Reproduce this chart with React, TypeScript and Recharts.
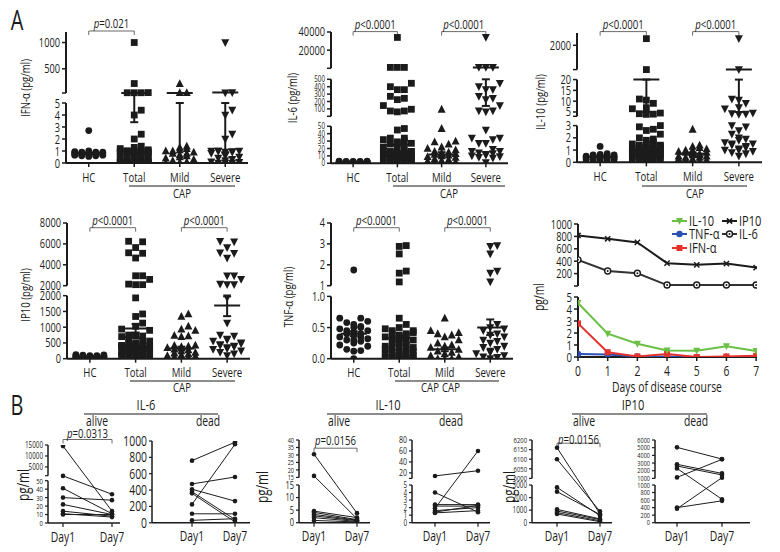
import React from "react";
import { ErrorBar, ReferenceLine, Scatter, ScatterChart, XAxis, YAxis } from "recharts";

const FONT = '"Open Sans", "Noto Sans", "Liberation Sans", sans-serif';
const SX = 0.74; // horizontal squeeze to get a condensed face
const INK = "#1b1b1b";
const GREEN = "#6abf45";
const BLUE = "#2a4fb5";
const RED = "#e5322d";

const GROUPS = ["HC", "Total", "Mild", "Severe"];

// IFN-α
const ifnHC = [2.7, 1.0, 0.95, 0.9, 0.9, 0.85, 0.85, 0.8, 0.8, 0.8, 0.8, 0.75, 0.75, 0.7, 0.7, 0.7, 0.65, 0.65, 0.6, 0.6, 0.55, 0.9];
const ifnMild = [220, 45, 45, 1.4, 1.3, 1.2, 1.1, 1.0, 1.0, 0.9, 0.8, 0.8, 0.7, 0.6, 0.5, 0.4, 0.3, 0.2, 0.1, 0.05, 0, 0, 0, 0, 0];
const ifnSevere = [1000, 48, 45, 4.4, 4.0, 2.4, 2.0, 1.0, 1.0, 1.0, 1.0, 0.95, 0.9, 0.9, 0.8, 0.6, 0.5, 0.4, 0.3, 0.2, 0.1, 0.05, 0, 0, 0];
const ifnCenter = [0.8, 40, 40, 50];
const ifnLow = [0.75, 3.4, 0, 0.9];
const ifnHigh = [0.85, 40, 5, 5];

// IL-6
const il6HC = [3, 3, 2.5, 2.5, 2, 2, 2, 2, 1.5, 1.5, 1.5, 1, 1, 1, 1, 0.5, 0.5, 2, 1.5, 2.5];
const il6Mild = [95, 47, 30, 29, 26, 22, 20, 18, 16, 15, 14, 13, 12, 11, 10, 9, 8, 6, 5, 4, 3, 2, 1, 0.5, 0.2];
const il6Severe = [34000, 1000, 1000, 1000, 446, 400, 360, 360, 270, 243, 225, 145, 72, 72, 60, 45, 34, 34, 32, 27, 27, 19, 16, 16, 14, 13, 12, 11, 10, 9, 8, 7, 1];
const il6Center = [1.8, 25, 12, 1000];
const il6Low = [1.5, 25, 9, 140];
const il6High = [2.1, 25, 15, 500];

// IL-10
const il10HC = [1.3, 0.7, 0.65, 0.6, 0.6, 0.55, 0.5, 0.5, 0.45, 0.45, 0.4, 0.4, 0.35, 0.35, 0.3, 0.3, 0.25, 0.2, 0.2, 0.15, 0.1, 0.05];
const il10Mild = [2.7, 1.4, 1.3, 1.2, 1.1, 1.0, 1.0, 0.9, 0.8, 0.8, 0.7, 0.7, 0.6, 0.6, 0.5, 0.5, 0.4, 0.4, 0.3, 0.3, 0.2, 0.2, 0.1, 0.1];
const il10Severe = [2540, 22, 11, 10.5, 9, 7, 6.5, 4.5, 4.2, 4.0, 3.9, 3.0, 2.9, 2.6, 2.3, 2.0, 1.9, 1.8, 1.6, 1.5, 1.5, 1.4, 1.3, 1.2, 1.1, 1.0, 1.0, 0.9, 0.8, 0.7, 0.5];
const il10Center = [0.45, 20, 0.7, 21];
const il10Low = [0.4, 5, 0.6, 5];
const il10High = [0.5, 20, 0.8, 20];

// IP10
const ip10HC = [130, 120, 110, 100, 100, 90, 80, 80, 70, 60, 60, 50, 50, 40, 40, 30, 30, 20, 20, 10];
const ip10Mild = [1420, 1340, 1030, 940, 900, 740, 720, 700, 430, 420, 400, 380, 350, 300, 280, 250, 200, 180, 150, 120, 100, 80, 60, 40, 20];
const ip10Severe = [6250, 6200, 5650, 5150, 5100, 4650, 2950, 2950, 2600, 2150, 2100, 2100, 1930, 1130, 750, 720, 620, 600, 560, 500, 480, 450, 420, 400, 380, 350, 320, 300, 250, 200, 150, 100];
const ip10Center = [60, 960, 320, 1690];
const ip10Low = [50, 830, 260, 1350];
const ip10High = [70, 1100, 380, 1980];

// TNF-α
const tnfHC = [1.75, 0.65, 0.65, 0.6, 0.58, 0.55, 0.52, 0.5, 0.5, 0.48, 0.45, 0.45, 0.42, 0.4, 0.4, 0.38, 0.35, 0.35, 0.32, 0.3, 0.3, 0.28, 0.25, 0.22, 0.2, 0.15, 0.13, 0.12, 0.0];
const tnfMild = [0.65, 0.45, 0.42, 0.4, 0.38, 0.35, 0.3, 0.25, 0.22, 0.2, 0.18, 0.15, 0.12, 0.1, 0.08, 0.05, 0.03, 0, 0, 0];
const tnfSevere = [2.92, 2.88, 2.52, 1.7, 1.6, 1.18, 0.55, 0.5, 0.48, 0.45, 0.4, 0.38, 0.35, 0.3, 0.28, 0.25, 0.2, 0.18, 0.15, 0.12, 0.1, 0.08, 0.05, 0.03, 0.02, 0];
const tnfCenter = [0.4, 0.33, 0.15, 0.5];
const tnfLow = [0.36, 0.29, 0.12, 0.38];
const tnfHigh = [0.44, 0.37, 0.18, 0.63];

// time course
const days = ["0", "1", "2", "4", "5", "6", "7"];
const trendIP10 = [815, 762, 703, 368, 341, 362, 297];
const trendIL6 = [422, 243, 205, 15, 15, 15, 15];
const trendIL10 = [4.5, 1.95, 1.1, 0.55, 0.52, 0.9, 0.5];
const trendIFN = [2.8, 0.4, 0.05, 0.25, 0, 0.05, 0.1];
const trendTNF = [0.25, 0.2, 0.05, 0.05, 0, 0, 0];

// paired Day1 / Day7
const il6AliveD1 = [14500, 900, 41, 30, 22, 14, 11, 10];
const il6AliveD7 = [14, 34, 11, 27, 10, 8, 7, 10];
const il6DeadD1 = [760, 475, 410, 380, 360, 225, 110, 30];
const il6DeadD7 = [985, 560, 265, 40, 10, 960, 110, 50];
const il10AliveD1 = [30.5, 16, 4.6, 4.1, 3.3, 2.7, 2.0, 0.9];
const il10AliveD7 = [3.8, 1.6, 2.0, 1.2, 1.0, 0.8, 0.5, 0.3];
const il10DeadD1 = [14.5, 4.0, 2.4, 2.2, 1.9, 1.6, 1.4, 1.3];
const il10DeadD7 = [24, 1.4, 2.4, 2.2, 60, 2.0, 2.3, 1.6];
const ip10AliveD1 = [6160, 6100, 2810, 2470, 1060, 930, 800, 690];
const ip10AliveD7 = [700, 900, 560, 650, 300, 250, 150, 80];
const ip10DeadD1 = [5040, 2830, 2610, 2300, 1130, 400, 370];
const ip10DeadD7 = [3520, 1650, 1450, 620, 3480, 580, 1100];

type Seg = { lo: number; hi: number; y0: number; y1: number };

const YW = 50;
const MT = 36;
const MR = 6;
const XH = 30;

const r2 = (v: number) => Math.round(v * 100) / 100;
const segD = (v: number, s: Seg) => s.y0 + ((v - s.lo) / (s.hi - s.lo)) * (s.y1 - s.y0);
function toD(v: number, segs: Seg[]) {
  for (const s of segs) if (v <= s.hi) return segD(v, s);
  return segD(v, segs[segs.length - 1]);
}

// condensed text: squeeze horizontally around the anchor point
function ct(x: number, y: number, s: any, fs = 13, anchor = "middle", rot = 0, key?: any) {
  const tr = `translate(${x},${y})${rot ? ` rotate(${rot})` : ""} scale(${SX},1)`;
  return (
    <text
      key={key}
      transform={tr}
      fontSize={fs}
      textAnchor={anchor as any}
      dominantBaseline={rot ? "central" : undefined}
      fontFamily={FONT}
      fill={INK}
    >
      {s}
    </text>
  );
}

function buildTicks(segs: Seg[], vals: number[][], fs: number[], fmt?: (v: number, i: number) => string) {
  const m = new Map<number, { t: string; fs: number }>();
  segs.forEach((s, i) => {
    if (i > 0) m.set(r2(s.y0), { t: "", fs: fs[i] });
    vals[i].forEach((v) => m.set(r2(segD(v, s)), { t: fmt ? fmt(v, i) : String(v), fs: fs[i] }));
  });
  return m;
}

const yTick = (m: Map<number, { t: string; fs: number }>) => (p: any) => {
  const e = m.get(p.payload.value);
  if (!e || !e.t) return <g />;
  return ct(p.x, p.y + e.fs * 0.36, e.t, e.fs, "end");
};
const xTick = (label: (v: number) => string, fs = 13) => (p: any) => ct(p.x, p.y + 12.5, label(p.payload.value), fs);

// simple beeswarm: px offsets so markers don't sit on top of each other
function swarm(vals: number[], segs: Seg[], step: number, maxOff: number) {
  const items = vals.map((v, i) => ({ i, d: toD(v, segs) })).sort((a, b) => a.d - b.d);
  const cands = [0];
  for (let k = 1; k * step <= maxOff; k++) cands.push(k * step, -k * step);
  const placed: { d: number; o: number }[] = [];
  const out = new Array(vals.length).fill(0);
  for (const it of items) {
    let best = 0;
    let bestHits = Infinity;
    for (const o of cands) {
      const hits = placed.filter((p) => Math.abs(p.d - it.d) < step && Math.abs(p.o - o) < step).length;
      if (hits < bestHits) {
        best = o;
        bestHits = hits;
        if (hits === 0) break;
      }
    }
    placed.push({ d: it.d, o: best });
    out[it.i] = best;
  }
  return out;
}

const mk = {
  circle: (r: number, fill = INK) => (p: any) => <circle cx={p.cx} cy={p.cy} r={r} fill={fill} />,
  square: (s: number, fill = INK) => (p: any) => <rect x={p.cx - s / 2} y={p.cy - s / 2} width={s} height={s} fill={fill} />,
  triUp: (s: number, fill = INK) => (p: any) => (
    <path d={`M${p.cx},${p.cy - s * 0.55}L${p.cx + s / 2},${p.cy + s * 0.42}L${p.cx - s / 2},${p.cy + s * 0.42}Z`} fill={fill} />
  ),
  triDown: (s: number, fill = INK) => (p: any) => (
    <path d={`M${p.cx},${p.cy + s * 0.55}L${p.cx + s / 2},${p.cy - s * 0.42}L${p.cx - s / 2},${p.cy - s * 0.42}Z`} fill={fill} />
  ),
  cross: (s: number, c = INK) => (p: any) => (
    <path d={`M${p.cx - s},${p.cy - s}L${p.cx + s},${p.cy + s}M${p.cx - s},${p.cy + s}L${p.cx + s},${p.cy - s}`} stroke={c} strokeWidth={1.5} />
  ),
  ring: (r: number, c = INK) => (p: any) => (
    <g>
      <circle cx={p.cx} cy={p.cy} r={r} fill="#fff" stroke={c} strokeWidth={1.4} />
      <circle cx={p.cx} cy={p.cy} r={1} fill={c} />
    </g>
  ),
};

const centerLine = (half: number) => (p: any) => (
  <line x1={p.cx - half} x2={p.cx + half} y1={p.cy} y2={p.cy} stroke={INK} strokeWidth={2} />
);

const bracket = (label: string, fs = 13, lift = 3) => (p: any) => {
  const { x1, y1, x2 } = p;
  return (
    <g>
      <path d={`M${x1},${y1 + 4}V${y1}H${x2}V${y1 + 4}`} fill="none" stroke="#6b6b6b" strokeWidth={1} />
      {ct(
        (x1 + x2) / 2,
        y1 - lift,
        <>
          <tspan fontStyle="italic">p</tspan>
          {label}
        </>,
        fs
      )}
    </g>
  );
};

function axisSegs(segs: Seg[], x: number, w = 2) {
  return segs.map((s, i) => (
    <ReferenceLine
      key={`ax${i}`}
      segment={[{ x, y: s.y0 }, { x, y: s.y1 }]}
      stroke={INK}
      strokeWidth={w}
      ifOverflow="visible"
    />
  ));
}

type DotProps = {
  axisX: number;
  right: number;
  bottom: number;
  segs: Seg[];
  tickVals: number[][];
  tickFs: number[];
  fmt?: (v: number, i: number) => string;
  hc: number[];
  mild: number[];
  severe: number[];
  center: number[];
  low: number[];
  high: number[];
  brackets: { a: number; b: number; y: number; label: string }[];
};

function DotPanel(p: DotProps) {
  const { segs } = p;
  const dmax = segs[segs.length - 1].y1;
  const W = p.right - p.axisX;
  const band = W / 4;
  const m = buildTicks(segs, p.tickVals, p.tickFs, p.fmt);
  const groups = [p.hc, [...p.mild, ...p.severe], p.mild, p.severe];
  const shapes = [mk.circle(3.4), mk.square(6.8), mk.triUp(8), mk.triDown(8)];
  const errData = p.low.map((lo, i) => ({ x: i, y: toD(lo, segs), err: [0, toD(p.high[i], segs) - toD(lo, segs)] }));
  const cData = p.center.map((c, i) => ({ x: i, y: toD(c, segs) }));
  return (
    <div style={{ position: "absolute", left: p.axisX - YW, top: p.bottom - dmax - MT }}>
      <ScatterChart width={YW + W + MR} height={MT + dmax + XH} margin={{ top: MT, right: MR, bottom: 0, left: 0 }}>
        <XAxis
          type="number"
          dataKey="x"
          domain={[-0.5, 3.5]}
          ticks={[0, 1, 2, 3]}
          interval={0}
          height={XH}
          allowDataOverflow
          axisLine={{ stroke: INK, strokeWidth: 2 }}
          tickLine={{ stroke: INK, strokeWidth: 1.5 }}
          tickSize={4}
          tick={xTick((v) => GROUPS[v])}
        />
        <YAxis
          type="number"
          dataKey="y"
          domain={[0, dmax]}
          ticks={[...m.keys()]}
          interval={0}
          width={YW}
          allowDataOverflow
          axisLine={false}
          tickLine={{ stroke: INK, strokeWidth: 1.5 }}
          tickSize={4}
          tick={yTick(m)}
        />
        {axisSegs(segs, -0.5)}
        <Scatter data={errData} shape={() => <g />} isAnimationActive={false}>
          <ErrorBar dataKey="err" direction="y" width={4} stroke={INK} strokeWidth={2} />
        </Scatter>
        {groups.map((vals, gi) => {
          const offs = swarm(vals, segs, 7, 20);
          return (
            <Scatter
              key={gi}
              data={vals.map((v, k) => ({ x: gi + offs[k] / band, y: toD(v, segs) }))}
              shape={shapes[gi]}
              isAnimationActive={false}
            />
          );
        })}
        <Scatter data={cData} shape={centerLine(13)} isAnimationActive={false} />
        {p.brackets.map((b, i) => (
          <ReferenceLine
            key={`br${i}`}
            segment={[{ x: b.a, y: p.bottom - b.y }, { x: b.b, y: p.bottom - b.y }]}
            ifOverflow="visible"
            shape={bracket(b.label)}
          />
        ))}
      </ScatterChart>
    </div>
  );
}

function TrendPanel() {
  const axisX = 578;
  const right = 757;
  const bottom = 357.3;
  const segs: Seg[] = [
    { lo: 0, hi: 5, y0: 0, y1: 60 },
    { lo: 0, hi: 1000, y0: 71, y1: 133 },
  ];
  const dmax = 133;
  const W = right - axisX;
  const m = buildTicks(segs, [[0, 1, 2, 3, 4, 5], [200, 400, 600, 800, 1000]], [13, 12.5]);
  const series = [
    { vals: trendIP10, color: INK, shape: mk.cross(2.6) },
    { vals: trendIL6, color: "#333", shape: mk.ring(3) },
    { vals: trendTNF, color: BLUE, shape: mk.circle(3.2, BLUE) },
    { vals: trendIFN, color: RED, shape: mk.square(6, RED) },
    { vals: trendIL10, color: GREEN, shape: mk.triDown(7, GREEN) },
  ];
  return (
    <div style={{ position: "absolute", left: axisX - YW, top: bottom - dmax - MT }}>
      <ScatterChart width={YW + W + MR} height={MT + dmax + XH} margin={{ top: MT, right: MR, bottom: 0, left: 0 }}>
        <XAxis
          type="number"
          dataKey="x"
          domain={[0, 6.03]}
          ticks={[0, 1, 2, 3, 4, 5, 6]}
          interval={0}
          height={XH}
          allowDataOverflow
          axisLine={{ stroke: INK, strokeWidth: 2 }}
          tickLine={{ stroke: INK, strokeWidth: 1.5 }}
          tickSize={4}
          tick={xTick((v) => days[v], 14)}
        />
        <YAxis
          type="number"
          dataKey="y"
          domain={[0, dmax]}
          ticks={[...m.keys()]}
          interval={0}
          width={YW}
          allowDataOverflow
          axisLine={false}
          tickLine={{ stroke: INK, strokeWidth: 1.5 }}
          tickSize={4}
          tick={yTick(m)}
        />
        {axisSegs(segs, 0)}
        {series.map((s, i) => (
          <Scatter
            key={i}
            data={s.vals.map((v, k) => ({ x: k, y: toD(v, segs) }))}
            line={{ stroke: s.color, strokeWidth: 2 }}
            shape={s.shape}
            isAnimationActive={false}
          />
        ))}
      </ScatterChart>
    </div>
  );
}

type PairProps = {
  axisX: number;
  right: number;
  x1: number;
  x7: number;
  segs: Seg[];
  tickVals: number[][];
  tickFs: number[];
  d1: number[];
  d7: number[];
  bracket?: { y: number; label: string; lift: number };
};

function PairPanel(p: PairProps) {
  const { segs } = p;
  const bottom = 522.5;
  const dmax = segs[segs.length - 1].y1;
  const W = p.right - p.axisX;
  const unit = p.x7 - p.x1;
  const xmin = -(p.x1 - p.axisX) / unit;
  const xmax = 1 + (p.right - p.x7) / unit;
  const m = buildTicks(segs, p.tickVals, p.tickFs);
  return (
    <div style={{ position: "absolute", left: p.axisX - YW, top: bottom - dmax - MT }}>
      <ScatterChart width={YW + W + MR} height={MT + dmax + XH} margin={{ top: MT, right: MR, bottom: 0, left: 0 }}>
        <XAxis
          type="number"
          dataKey="x"
          domain={[xmin, xmax]}
          ticks={[0, 1]}
          interval={0}
          height={XH}
          allowDataOverflow
          axisLine={{ stroke: INK, strokeWidth: 1.5 }}
          tickLine={{ stroke: INK, strokeWidth: 1.2 }}
          tickSize={4}
          tick={xTick((v) => (v === 0 ? "Day1" : "Day7"), 14)}
        />
        <YAxis
          type="number"
          dataKey="y"
          domain={[0, dmax]}
          ticks={[...m.keys()]}
          interval={0}
          width={YW}
          allowDataOverflow
          axisLine={false}
          tickLine={{ stroke: INK, strokeWidth: 1.2 }}
          tickSize={3}
          tick={yTick(m)}
        />
        {axisSegs(segs, xmin, 1.5)}
        {p.d1.map((v, k) => (
          <Scatter
            key={k}
            data={[
              { x: 0, y: toD(v, segs) },
              { x: 1, y: toD(p.d7[k], segs) },
            ]}
            line={{ stroke: INK, strokeWidth: 1 }}
            shape={mk.circle(2.3)}
            isAnimationActive={false}
          />
        ))}
        {p.bracket && (
          <ReferenceLine
            segment={[{ x: 0, y: bottom - p.bracket.y }, { x: 1, y: bottom - p.bracket.y }]}
            ifOverflow="visible"
            shape={bracket(p.bracket.label, 13, p.bracket.lift)}
          />
        )}
      </ScatterChart>
    </div>
  );
}

const hline = (x1: number, x2: number, y: number, key?: any) => (
  <line key={key} x1={x1} x2={x2} y1={y} y2={y} stroke={INK} strokeWidth={1} />
);

function Overlay() {
  const legend = [
    { name: "IL-10", color: GREEN, shape: mk.triDown(7, GREEN), x: 672, y: 221 },
    { name: "IP10", color: INK, shape: mk.cross(2.6), x: 722, y: 221 },
    { name: "TNF-α", color: BLUE, shape: mk.circle(3.2, BLUE), x: 672, y: 234 },
    { name: "IL-6", color: "#333", shape: mk.ring(3), x: 722, y: 234 },
    { name: "IFN-α", color: RED, shape: mk.square(6, RED), x: 672, y: 248 },
  ];
  const heads = [
    { name: "IL-6", c: 146, l: 84, r: 218, a: 97, d: 208 },
    { name: "IL-10", c: 388, l: 327, r: 462, a: 339, d: 451 },
    { name: "IP10", c: 633, l: 572, r: 707, a: 584, d: 696 },
  ];
  return (
    <svg width={780} height={552} style={{ position: "absolute", left: 0, top: 0, pointerEvents: "none" }}>
      {ct(17, 30, "A", 27)}
      {ct(17, 415, "B", 27)}
      {ct(25, 88, "IFN-α (pg/ml)", 13, "middle", -90)}
      {ct(292, 98, "IL-6 (pg/ml)", 13, "middle", -90)}
      {ct(540, 102, "IL-10 (pg/ml)", 13, "middle", -90)}
      {ct(25, 295, "IP10 (pg/ml)", 13, "middle", -90)}
      {ct(288, 297, "TNF-α (pg/ml)", 13, "middle", -90)}
      {ct(539, 297, "pg/ml", 14, "middle", -90)}
      {hline(129, 235, 186)}
      {ct(182, 198, "CAP")}
      {hline(393, 505, 186)}
      {ct(449, 198, "CAP")}
      {hline(642, 747, 186)}
      {ct(695, 198, "CAP")}
      {hline(130, 235, 381)}
      {ct(182, 392, "CAP")}
      {hline(395, 499, 381)}
      {ct(430, 392, "CAP")}
      {ct(451, 392, "CAP")}
      {ct(667, 392, "Days of disease course", 14)}
      {legend.map((g, i) => (
        <g key={i}>
          <line x1={g.x} x2={g.x + 15} y1={g.y} y2={g.y} stroke={g.color} strokeWidth={2} />
          {g.shape({ cx: g.x + 7.5, cy: g.y })}
          {ct(g.x + 17, g.y + 5, g.name, 15, "start")}
        </g>
      ))}
      {heads.map((h, i) => (
        <g key={i}>
          {ct(h.c, 410, h.name, 15)}
          {hline(h.l, h.r, 414)}
          {ct(h.a, 426, "alive", 14)}
          {ct(h.d, 426, "dead", 14)}
        </g>
      ))}
      {ct(23, 485, "pg/ml", 16, "middle", -90)}
      {ct(262, 487, "pg/ml", 16, "middle", -90)}
      {ct(509, 487, "pg/ml", 16, "middle", -90)}
    </svg>
  );
}

export default function App() {
  return (
    <div style={{ position: "absolute", left: 0, top: 0, width: 780, height: 552, background: "#fff", overflow: "hidden" }}>
      <DotPanel
        axisX={66}
        right={248}
        bottom={163}
        segs={[
          { lo: 0, hi: 5, y0: 0, y1: 60 },
          { lo: 40, hi: 1200, y0: 70, y1: 131 },
        ]}
        tickVals={[[0, 1, 2, 3, 4, 5], [500, 1000]]}
        tickFs={[12.5, 12.5]}
        hc={ifnHC}
        mild={ifnMild}
        severe={ifnSevere}
        center={ifnCenter}
        low={ifnLow}
        high={ifnHigh}
        brackets={[{ a: 0, b: 1, y: 31, label: "=0.021" }]}
      />
      <DotPanel
        axisX={331}
        right={508}
        bottom={163.7}
        segs={[
          { lo: 0, hi: 50, y0: 0, y1: 37 },
          { lo: 0, hi: 500, y0: 47, y1: 84 },
          { lo: 0, hi: 40000, y0: 95, y1: 131.3 },
        ]}
        tickVals={[[0, 10, 20, 30, 40, 50], [100, 200, 300, 400, 500], [20000, 40000]]}
        tickFs={[8.5, 8.5, 12.5]}
        hc={il6HC}
        mild={il6Mild}
        severe={il6Severe}
        center={il6Center}
        low={il6Low}
        high={il6High}
        brackets={[
          { a: 0, b: 1, y: 32, label: "<0.0001" },
          { a: 2, b: 3, y: 32, label: "<0.0001" },
        ]}
      />
      <DotPanel
        axisX={577}
        right={762}
        bottom={162.7}
        segs={[
          { lo: 0, hi: 3, y0: 0, y1: 36.7 },
          { lo: 3, hi: 20, y0: 46, y1: 82.7 },
          { lo: 20, hi: 3000, y0: 92.7, y1: 129.3 },
        ]}
        tickVals={[[0, 1, 2, 3], [5, 10, 15, 20], [2000]]}
        tickFs={[12.5, 12.5, 12.5]}
        hc={il10HC}
        mild={il10Mild}
        severe={il10Severe}
        center={il10Center}
        low={il10Low}
        high={il10High}
        brackets={[
          { a: 0, b: 1, y: 32, label: "<0.0001" },
          { a: 2, b: 3, y: 32, label: "<0.0001" },
        ]}
      />
      <DotPanel
        axisX={67}
        right={250}
        bottom={359}
        segs={[
          { lo: 0, hi: 2000, y0: 0, y1: 63 },
          { lo: 2000, hi: 8000, y0: 73, y1: 135.7 },
        ]}
        tickVals={[[0, 500, 1000, 1500, 2000], [2000, 4000, 6000, 8000]]}
        tickFs={[12.5, 12.5]}
        hc={ip10HC}
        mild={ip10Mild}
        severe={ip10Severe}
        center={ip10Center}
        low={ip10Low}
        high={ip10High}
        brackets={[
          { a: 0, b: 1, y: 228, label: "<0.0001" },
          { a: 2, b: 3, y: 228, label: "<0.0001" },
        ]}
      />
      <DotPanel
        axisX={331}
        right={513}
        bottom={359}
        segs={[
          { lo: 0, hi: 1, y0: 0, y1: 62.3 },
          { lo: 1, hi: 4, y0: 73, y1: 135.7 },
        ]}
        tickVals={[[0, 0.5, 1], [1, 2, 3, 4]]}
        tickFs={[12.5, 12.5]}
        fmt={(v, i) => (i === 0 ? v.toFixed(1) : String(v))}
        hc={tnfHC}
        mild={tnfMild}
        severe={tnfSevere}
        center={tnfCenter}
        low={tnfLow}
        high={tnfHigh}
        brackets={[
          { a: 0, b: 1, y: 228, label: "<0.0001" },
          { a: 2, b: 3, y: 228, label: "<0.0001" },
        ]}
      />
      <TrendPanel />
      <PairPanel
        axisX={48}
        right={120}
        x1={63}
        x7={112}
        segs={[
          { lo: 0, hi: 50, y0: 0, y1: 42.3 },
          { lo: 1000, hi: 15000, y0: 47.3, y1: 78 },
        ]}
        tickVals={[[0, 10, 20, 30, 40, 50], [5000, 10000, 15000]]}
        tickFs={[8, 8.5]}
        d1={il6AliveD1}
        d7={il6AliveD7}
        bracket={{ y: 439, label: "=0.0313", lift: 2 }}
      />
      <PairPanel
        axisX={152}
        right={250}
        x1={192}
        x7={235}
        segs={[{ lo: 0, hi: 1000, y0: 0, y1: 81.8 }]}
        tickVals={[[0, 200, 400, 600, 800, 1000]]}
        tickFs={[14]}
        d1={il6DeadD1}
        d7={il6DeadD7}
      />
      <PairPanel
        axisX={299}
        right={370}
        x1={314}
        x7={357}
        segs={[
          { lo: 0, hi: 15, y0: 0, y1: 37.7 },
          { lo: 15, hi: 40, y0: 45.3, y1: 82.7 },
        ]}
        tickVals={[[0, 5, 10, 15], [15, 20, 25, 30, 35, 40]]}
        tickFs={[10, 7.5]}
        d1={il10AliveD1}
        d7={il10AliveD7}
        bracket={{ y: 448, label: "=0.0156", lift: 3 }}
      />
      <PairPanel
        axisX={412}
        right={490}
        x1={435}
        x7={478}
        segs={[
          { lo: 0, hi: 5, y0: 0, y1: 37.7 },
          { lo: 10, hi: 80, y0: 44.3, y1: 82.7 },
        ]}
        tickVals={[[0, 1, 2, 3, 4, 5], [20, 40, 60, 80]]}
        tickFs={[8.5, 9.5]}
        d1={il10DeadD1}
        d7={il10DeadD7}
      />
      <PairPanel
        axisX={532}
        right={612}
        x1={557}
        x7={600}
        segs={[
          { lo: 0, hi: 3000, y0: 0, y1: 37.7 },
          { lo: 6000, hi: 6200, y0: 44.3, y1: 82.7 },
        ]}
        tickVals={[[0, 1000, 2000, 3000], [6000, 6050, 6100, 6150, 6200]]}
        tickFs={[8.5, 8]}
        d1={ip10AliveD1}
        d7={ip10AliveD7}
        bracket={{ y: 443, label: "=0.0156", lift: -1 }}
      />
      <PairPanel
        axisX={655}
        right={750}
        x1={677}
        x7={722}
        segs={[
          { lo: 0, hi: 1000, y0: 0, y1: 37.7 },
          { lo: 1000, hi: 6000, y0: 44.3, y1: 82.7 },
        ]}
        tickVals={[[0, 200, 400, 600, 800, 1000], [1000, 2000, 3000, 4000, 5000, 6000]]}
        tickFs={[7.5, 7.5]}
        d1={ip10DeadD1}
        d7={ip10DeadD7}
      />
      <Overlay />
    </div>
  );
}
